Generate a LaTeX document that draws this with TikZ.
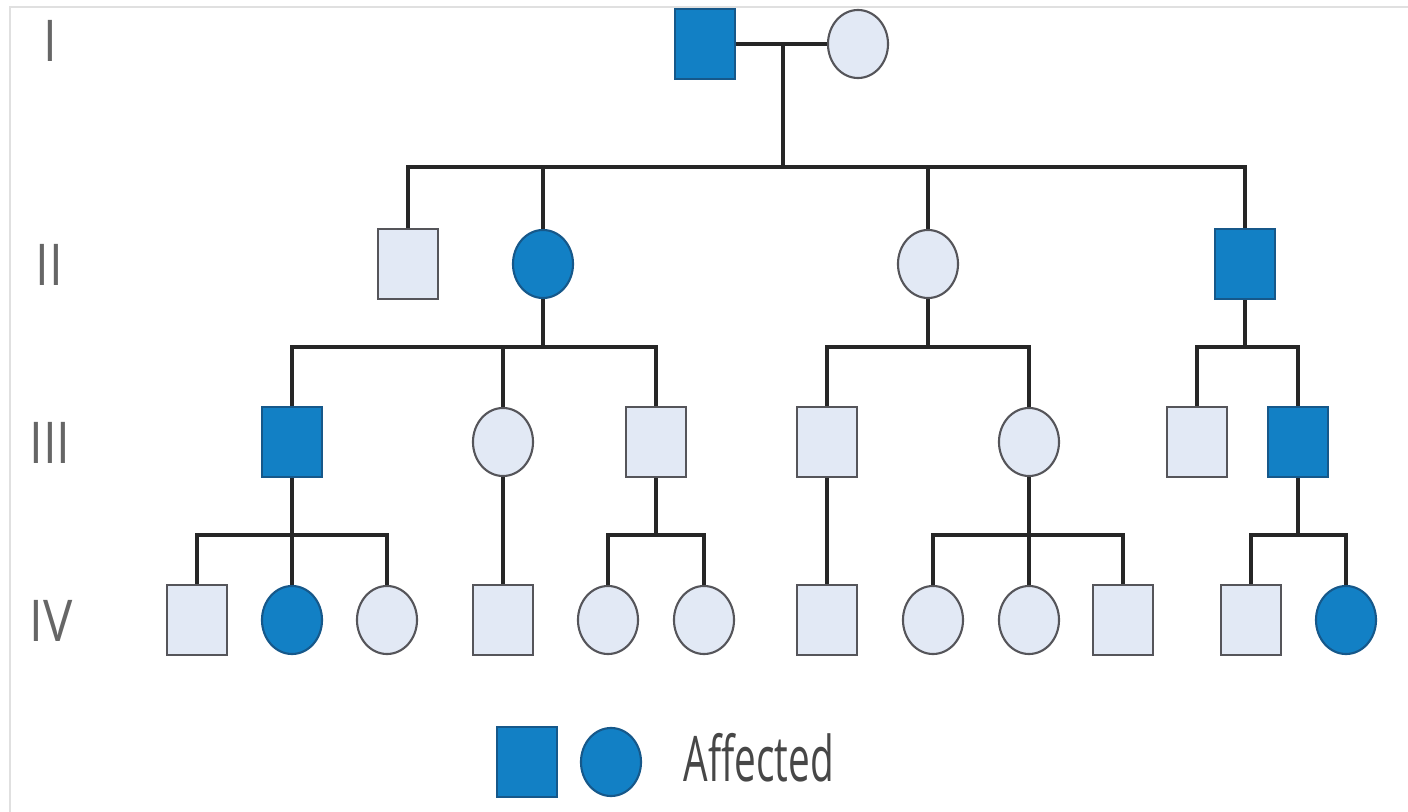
\documentclass[tikz,border=0pt]{standalone}
\usepackage{fontspec}
\setmainfont{Open Sans}
\usepackage{graphicx}
\usepackage{tikz}
\usetikzlibrary{shapes.geometric}
\definecolor{affblue}{RGB}{18,128,197}
\definecolor{affedge}{RGB}{22,88,138}
\definecolor{unfill}{RGB}{226,233,245}
\definecolor{unedge}{RGB}{85,85,90}
\newcommand{\genlab}[1]{\scalebox{1}[1.17]{#1}}

\begin{document}
\begin{tikzpicture}[x=0.01cm, y=-0.01cm,
    male/.style={rectangle, minimum width=0.6cm, minimum height=0.7cm, inner sep=0pt, line width=0.6pt},
    female/.style={ellipse, minimum width=0.6cm, minimum height=0.68cm, inner sep=0pt, line width=0.6pt},
    aff/.style={fill=affblue, draw=affedge},
    unaff/.style={fill=unfill, draw=unedge},
    link/.style={line width=1.1pt, draw=black!85},
    gen/.style={text=black!60, font=\fontsize{14}{14}\selectfont}]

      \useasboundingbox (0,0) rectangle (1408,812);
      \draw[black!12, line width=0.8pt] (10,812) -- (10,7) -- (1408,7);

      % generation labels
      \node[gen] (gI) at (50,41) {\genlab{I}};
      \node[gen] (gII) at (49,265) {\genlab{II}};
      \node[gen] (gIII) at (50,443) {\genlab{III}};
      \node[gen] (gIV) at (51,621) {\genlab{IV}};

      % generation I
      \node[male, aff] (I1) at (705,44) {};
      \node[female, unaff] (I2) at (858,44) {};

      % generation II
      \node[male, unaff] (II1) at (408,264) {};
      \node[female, aff] (II2) at (543,264) {};
      \node[female, unaff] (II3) at (928,264) {};
      \node[male, aff] (II4) at (1245,264) {};

      % generation III
      \node[male, aff] (III1) at (292,442) {};
      \node[female, unaff] (III2) at (503,442) {};
      \node[male, unaff] (III3) at (656,442) {};
      \node[male, unaff] (III4) at (827,442) {};
      \node[female, unaff] (III5) at (1029,442) {};
      \node[male, unaff] (III6) at (1197,442) {};
      \node[male, aff] (III7) at (1298,442) {};

      % generation IV
      \node[male, unaff] (IV1) at (197,620) {};
      \node[female, aff] (IV2) at (292,620) {};
      \node[female, unaff] (IV3) at (387,620) {};
      \node[male, unaff] (IV4) at (503,620) {};
      \node[female, unaff] (IV5) at (608,620) {};
      \node[female, unaff] (IV6) at (704,620) {};
      \node[male, unaff] (IV7) at (827,620) {};
      \node[female, unaff] (IV8) at (933,620) {};
      \node[female, unaff] (IV9) at (1029,620) {};
      \node[male, unaff] (IV10) at (1123,620) {};
      \node[male, unaff] (IV11) at (1251,620) {};
      \node[female, aff] (IV12) at (1346,620) {};

      % lines
      \coordinate (c1) at (783,44);
      \coordinate (s1) at (783,167);
      \coordinate (s2) at (II2 |- 0,347);
      \coordinate (s3) at (II3 |- 0,347);
      \coordinate (s4) at (II4 |- 0,347);
      \coordinate (s5) at (III1 |- 0,535);
      \coordinate (s6) at (III3 |- 0,535);
      \coordinate (s7) at (III5 |- 0,535);
      \coordinate (s8) at (III7 |- 0,535);

      \draw[link] (I1) -- (I2);
      \draw[link] (c1) -- (s1);
      \foreach \n in {II1,II2,II3,II4} \draw[link] (s1) -| (\n);

      \draw[link] (II2) -- (s2);
      \foreach \n in {III1,III2,III3} \draw[link] (s2) -| (\n);
      \draw[link] (II3) -- (s3);
      \foreach \n in {III4,III5} \draw[link] (s3) -| (\n);
      \draw[link] (II4) -- (s4);
      \foreach \n in {III6,III7} \draw[link] (s4) -| (\n);

      \draw[link] (III1) -- (s5);
      \foreach \n in {IV1,IV2,IV3} \draw[link] (s5) -| (\n);
      \draw[link] (III2) -- (IV4);
      \draw[link] (III3) -- (s6);
      \foreach \n in {IV5,IV6} \draw[link] (s6) -| (\n);
      \draw[link] (III4) -- (IV7);
      \draw[link] (III5) -- (s7);
      \foreach \n in {IV8,IV9,IV10} \draw[link] (s7) -| (\n);
      \draw[link] (III7) -- (s8);
      \foreach \n in {IV11,IV12} \draw[link] (s8) -| (\n);

      % legend
      \node[male, aff] (L1) at (527,762) {};
      \node[female, aff] (L2) at (611,762) {};
      \node[anchor=west, inner sep=0pt, text=black!72, font=\fontsize{15.3}{16}\selectfont] (L3) at (683,758) {\scalebox{0.72}[1.17]{Affected}};
\end{tikzpicture}
\end{document}
